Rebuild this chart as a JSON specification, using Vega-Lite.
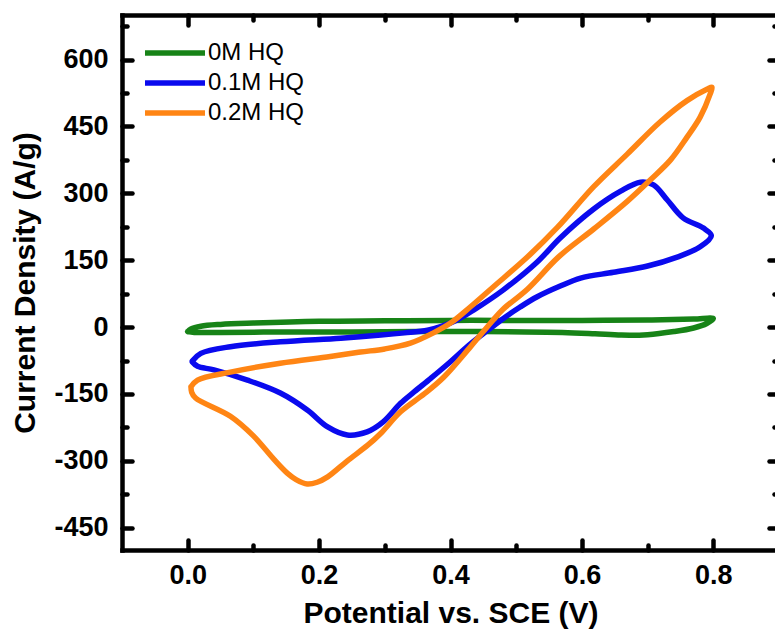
{
  "$schema": "https://vega.github.io/schema/vega-lite/v6.json",
  "width": 657,
  "height": 535,
  "autosize": {"type": "none"},
  "padding": {"left": 122, "top": 15, "right": 0, "bottom": 84},
  "background": "white",
  "data": {"values": [
    {"s": "0M HQ", "i": 1, "v": 0.0, "j": -10},
    {"s": "0M HQ", "i": 2, "v": 0.005, "j": -4},
    {"s": "0M HQ", "i": 3, "v": 0.02, "j": 2},
    {"s": "0M HQ", "i": 4, "v": 0.05, "j": 6},
    {"s": "0M HQ", "i": 5, "v": 0.1, "j": 9},
    {"s": "0M HQ", "i": 6, "v": 0.2, "j": 13},
    {"s": "0M HQ", "i": 7, "v": 0.3, "j": 14},
    {"s": "0M HQ", "i": 8, "v": 0.4, "j": 15},
    {"s": "0M HQ", "i": 9, "v": 0.5, "j": 15},
    {"s": "0M HQ", "i": 10, "v": 0.6, "j": 15},
    {"s": "0M HQ", "i": 11, "v": 0.7, "j": 16},
    {"s": "0M HQ", "i": 12, "v": 0.77, "j": 18},
    {"s": "0M HQ", "i": 13, "v": 0.8, "j": 19},
    {"s": "0M HQ", "i": 14, "v": 0.79, "j": 8},
    {"s": "0M HQ", "i": 15, "v": 0.77, "j": -2},
    {"s": "0M HQ", "i": 16, "v": 0.74, "j": -10},
    {"s": "0M HQ", "i": 17, "v": 0.7, "j": -17},
    {"s": "0M HQ", "i": 18, "v": 0.66, "j": -18},
    {"s": "0M HQ", "i": 19, "v": 0.62, "j": -15},
    {"s": "0M HQ", "i": 20, "v": 0.57, "j": -12},
    {"s": "0M HQ", "i": 21, "v": 0.45, "j": -10},
    {"s": "0M HQ", "i": 22, "v": 0.35, "j": -10},
    {"s": "0M HQ", "i": 23, "v": 0.25, "j": -11},
    {"s": "0M HQ", "i": 24, "v": 0.15, "j": -11},
    {"s": "0M HQ", "i": 25, "v": 0.05, "j": -12},
    {"s": "0M HQ", "i": 26, "v": 0.01, "j": -12},
    {"s": "0M HQ", "i": 27, "v": 0.0, "j": -10},

    {"s": "0.1M HQ", "i": 1, "v": 0.007, "j": -76},
    {"s": "0.1M HQ", "i": 2, "v": 0.02, "j": -59},
    {"s": "0.1M HQ", "i": 3, "v": 0.065, "j": -44},
    {"s": "0.1M HQ", "i": 4, "v": 0.141, "j": -33},
    {"s": "0.1M HQ", "i": 5, "v": 0.233, "j": -25},
    {"s": "0.1M HQ", "i": 6, "v": 0.294, "j": -18},
    {"s": "0.1M HQ", "i": 7, "v": 0.33, "j": -13},
    {"s": "0.1M HQ", "i": 8, "v": 0.365, "j": -7},
    {"s": "0.1M HQ", "i": 9, "v": 0.385, "j": 1},
    {"s": "0.1M HQ", "i": 10, "v": 0.41, "j": 16},
    {"s": "0.1M HQ", "i": 11, "v": 0.435, "j": 38},
    {"s": "0.1M HQ", "i": 12, "v": 0.48, "j": 83},
    {"s": "0.1M HQ", "i": 13, "v": 0.532, "j": 146},
    {"s": "0.1M HQ", "i": 14, "v": 0.567, "j": 200},
    {"s": "0.1M HQ", "i": 15, "v": 0.618, "j": 265},
    {"s": "0.1M HQ", "i": 16, "v": 0.659, "j": 305},
    {"s": "0.1M HQ", "i": 17, "v": 0.689, "j": 325},
    {"s": "0.1M HQ", "i": 18, "v": 0.709, "j": 319},
    {"s": "0.1M HQ", "i": 19, "v": 0.73, "j": 285},
    {"s": "0.1M HQ", "i": 20, "v": 0.754, "j": 245},
    {"s": "0.1M HQ", "i": 21, "v": 0.785, "j": 222},
    {"s": "0.1M HQ", "i": 22, "v": 0.797, "j": 205},
    {"s": "0.1M HQ", "i": 23, "v": 0.78, "j": 180},
    {"s": "0.1M HQ", "i": 24, "v": 0.745, "j": 157},
    {"s": "0.1M HQ", "i": 25, "v": 0.70, "j": 137},
    {"s": "0.1M HQ", "i": 26, "v": 0.648, "j": 123},
    {"s": "0.1M HQ", "i": 27, "v": 0.598, "j": 110},
    {"s": "0.1M HQ", "i": 28, "v": 0.567, "j": 92},
    {"s": "0.1M HQ", "i": 29, "v": 0.532, "j": 68},
    {"s": "0.1M HQ", "i": 30, "v": 0.506, "j": 45},
    {"s": "0.1M HQ", "i": 31, "v": 0.481, "j": 20},
    {"s": "0.1M HQ", "i": 32, "v": 0.456, "j": -8},
    {"s": "0.1M HQ", "i": 33, "v": 0.43, "j": -38},
    {"s": "0.1M HQ", "i": 34, "v": 0.395, "j": -84},
    {"s": "0.1M HQ", "i": 35, "v": 0.37, "j": -115},
    {"s": "0.1M HQ", "i": 36, "v": 0.345, "j": -145},
    {"s": "0.1M HQ", "i": 37, "v": 0.324, "j": -171},
    {"s": "0.1M HQ", "i": 38, "v": 0.298, "j": -212},
    {"s": "0.1M HQ", "i": 39, "v": 0.273, "j": -235},
    {"s": "0.1M HQ", "i": 40, "v": 0.243, "j": -242},
    {"s": "0.1M HQ", "i": 41, "v": 0.213, "j": -224},
    {"s": "0.1M HQ", "i": 42, "v": 0.182, "j": -186},
    {"s": "0.1M HQ", "i": 43, "v": 0.141, "j": -148},
    {"s": "0.1M HQ", "i": 44, "v": 0.091, "j": -119},
    {"s": "0.1M HQ", "i": 45, "v": 0.04, "j": -96},
    {"s": "0.1M HQ", "i": 46, "v": 0.015, "j": -88},
    {"s": "0.1M HQ", "i": 47, "v": 0.007, "j": -78},

    {"s": "0.2M HQ", "i": 1, "v": 0.005, "j": -134},
    {"s": "0.2M HQ", "i": 2, "v": 0.015, "j": -119},
    {"s": "0.2M HQ", "i": 3, "v": 0.065, "j": -101},
    {"s": "0.2M HQ", "i": 4, "v": 0.141, "j": -81},
    {"s": "0.2M HQ", "i": 5, "v": 0.217, "j": -66},
    {"s": "0.2M HQ", "i": 6, "v": 0.263, "j": -56},
    {"s": "0.2M HQ", "i": 7, "v": 0.3, "j": -49},
    {"s": "0.2M HQ", "i": 8, "v": 0.339, "j": -36},
    {"s": "0.2M HQ", "i": 9, "v": 0.374, "j": -13},
    {"s": "0.2M HQ", "i": 10, "v": 0.4, "j": 9},
    {"s": "0.2M HQ", "i": 11, "v": 0.43, "j": 45},
    {"s": "0.2M HQ", "i": 12, "v": 0.465, "j": 90},
    {"s": "0.2M HQ", "i": 13, "v": 0.517, "j": 157},
    {"s": "0.2M HQ", "i": 14, "v": 0.563, "j": 224},
    {"s": "0.2M HQ", "i": 15, "v": 0.618, "j": 315},
    {"s": "0.2M HQ", "i": 16, "v": 0.669, "j": 388},
    {"s": "0.2M HQ", "i": 17, "v": 0.719, "j": 460},
    {"s": "0.2M HQ", "i": 18, "v": 0.76, "j": 508},
    {"s": "0.2M HQ", "i": 19, "v": 0.791, "j": 534},
    {"s": "0.2M HQ", "i": 20, "v": 0.798, "j": 538},
    {"s": "0.2M HQ", "i": 21, "v": 0.795, "j": 522},
    {"s": "0.2M HQ", "i": 22, "v": 0.78, "j": 471},
    {"s": "0.2M HQ", "i": 23, "v": 0.76, "j": 426},
    {"s": "0.2M HQ", "i": 24, "v": 0.735, "j": 375},
    {"s": "0.2M HQ", "i": 25, "v": 0.704, "j": 330},
    {"s": "0.2M HQ", "i": 26, "v": 0.669, "j": 282},
    {"s": "0.2M HQ", "i": 27, "v": 0.618, "j": 220},
    {"s": "0.2M HQ", "i": 28, "v": 0.565, "j": 158},
    {"s": "0.2M HQ", "i": 29, "v": 0.517, "j": 85},
    {"s": "0.2M HQ", "i": 30, "v": 0.48, "j": 40},
    {"s": "0.2M HQ", "i": 31, "v": 0.465, "j": 16},
    {"s": "0.2M HQ", "i": 32, "v": 0.43, "j": -45},
    {"s": "0.2M HQ", "i": 33, "v": 0.39, "j": -112},
    {"s": "0.2M HQ", "i": 34, "v": 0.36, "j": -150},
    {"s": "0.2M HQ", "i": 35, "v": 0.324, "j": -190},
    {"s": "0.2M HQ", "i": 36, "v": 0.294, "j": -238},
    {"s": "0.2M HQ", "i": 37, "v": 0.274, "j": -265},
    {"s": "0.2M HQ", "i": 38, "v": 0.243, "j": -300},
    {"s": "0.2M HQ", "i": 39, "v": 0.213, "j": -336},
    {"s": "0.2M HQ", "i": 40, "v": 0.197, "j": -348},
    {"s": "0.2M HQ", "i": 41, "v": 0.182, "j": -352},
    {"s": "0.2M HQ", "i": 42, "v": 0.165, "j": -342},
    {"s": "0.2M HQ", "i": 43, "v": 0.152, "j": -328},
    {"s": "0.2M HQ", "i": 44, "v": 0.131, "j": -296},
    {"s": "0.2M HQ", "i": 45, "v": 0.1, "j": -244},
    {"s": "0.2M HQ", "i": 46, "v": 0.065, "j": -200},
    {"s": "0.2M HQ", "i": 47, "v": 0.012, "j": -159},
    {"s": "0.2M HQ", "i": 48, "v": 0.006, "j": -146},
    {"s": "0.2M HQ", "i": 49, "v": 0.005, "j": -134}
  ]},
  "layer": [
    {
      "mark": {"type": "line", "strokeWidth": 5.5, "strokeCap": "round", "strokeJoin": "round", "interpolate": "catmull-rom"},
      "encoding": {
        "x": {"field": "v", "type": "quantitative", "scale": {"domain": [-0.1, 0.9], "nice": false, "zero": false},
              "axis": {"orient": "bottom", "values": [0, 0.2, 0.4, 0.6, 0.8], "format": ".1f", "title": "Potential vs. SCE (V)", "ticks": false, "tickSize": 0, "labelPadding": 12, "titlePadding": 10}},
        "y": {"field": "j", "type": "quantitative", "scale": {"domain": [-500, 700], "nice": false, "zero": false},
              "axis": {"orient": "left", "values": [-450, -300, -150, 0, 150, 300, 450, 600], "labelExpr": "datum.value < 0 ? '-' + abs(datum.value) : '' + datum.value", "title": "Current Density (A/g)", "ticks": false, "tickSize": 0, "labelPadding": 14, "titlePadding": 13}},
        "color": {"field": "s", "type": "nominal", "scale": {"domain": ["0M HQ", "0.1M HQ", "0.2M HQ"], "range": ["#178317", "#0a0aee", "#ff8514"]},
                  "legend": {"orient": "none", "legendX": 40, "legendY": 25, "title": null, "symbolType": "M-3,0H3", "symbolSize": 400, "symbolStrokeWidth": 5.5, "labelFontSize": 24, "labelFont": "Liberation Sans", "labelColor": "black", "labelOffset": 20, "rowPadding": 5}},
        "order": {"field": "i", "type": "quantitative"}
      }
    },
    {
      "mark": {"type": "point", "opacity": 0},
      "encoding": {
        "x": {"field": "v", "type": "quantitative", "axis": {"orient": "top", "labels": false, "title": null, "ticks": false, "tickSize": 0}},
        "y": {"field": "j", "type": "quantitative", "axis": {"orient": "right", "labels": false, "title": null, "ticks": false, "tickSize": 0}}
      }
    },
    {
      "mark": {"type": "point", "opacity": 0},
      "encoding": {
        "x": {"field": "v", "type": "quantitative", "axis": {"orient": "bottom", "values": [0, 0.2, 0.4, 0.6, 0.8], "labels": false, "title": null, "domain": false, "offset": -10, "tickSize": 10}},
        "y": {"field": "j", "type": "quantitative", "axis": {"orient": "left", "values": [-450, -300, -150, 0, 150, 300, 450, 600], "labels": false, "title": null, "domain": false, "offset": -10, "tickSize": 10}}
      }
    },
    {
      "mark": {"type": "point", "opacity": 0},
      "encoding": {
        "x": {"field": "v", "type": "quantitative", "axis": {"orient": "top", "values": [0, 0.2, 0.4, 0.6, 0.8], "labels": false, "title": null, "domain": false, "offset": -10, "tickSize": 10}},
        "y": {"field": "j", "type": "quantitative", "axis": {"orient": "right", "values": [-450, -300, -150, 0, 150, 300, 450, 600], "labels": false, "title": null, "domain": false, "offset": -10, "tickSize": 10}}
      }
    },
    {
      "mark": {"type": "point", "opacity": 0},
      "encoding": {
        "x": {"field": "v", "type": "quantitative", "axis": {"orient": "bottom", "values": [0.1, 0.3, 0.5, 0.7], "labels": false, "title": null, "domain": false, "offset": -5, "tickSize": 5}},
        "y": {"field": "j", "type": "quantitative", "axis": {"orient": "left", "values": [-375, -225, -75, 75, 225, 375, 525, 675], "labels": false, "title": null, "domain": false, "offset": -5, "tickSize": 5}}
      }
    },
    {
      "mark": {"type": "point", "opacity": 0},
      "encoding": {
        "x": {"field": "v", "type": "quantitative", "axis": {"orient": "top", "values": [0.1, 0.3, 0.5, 0.7], "labels": false, "title": null, "domain": false, "offset": -5, "tickSize": 5}},
        "y": {"field": "j", "type": "quantitative", "axis": {"orient": "right", "values": [-375, -225, -75, 75, 225, 375, 525, 675], "labels": false, "title": null, "domain": false, "offset": -5, "tickSize": 5}}
      }
    }
  ],
  "resolve": {"axis": {"x": "independent", "y": "independent"}},
  "config": {
    "view": {"stroke": null},
    "axis": {"grid": false, "domainColor": "black", "domainWidth": 4.5, "domainCap": "square", "tickColor": "black", "tickWidth": 4.5, "tickCap": "round",
             "labelFont": "Liberation Sans", "labelFontWeight": "bold", "labelFontSize": 27, "labelColor": "black",
             "titleFont": "Liberation Sans", "titleFontWeight": "bold", "titleFontSize": 30, "titleColor": "black"}
  }
}
